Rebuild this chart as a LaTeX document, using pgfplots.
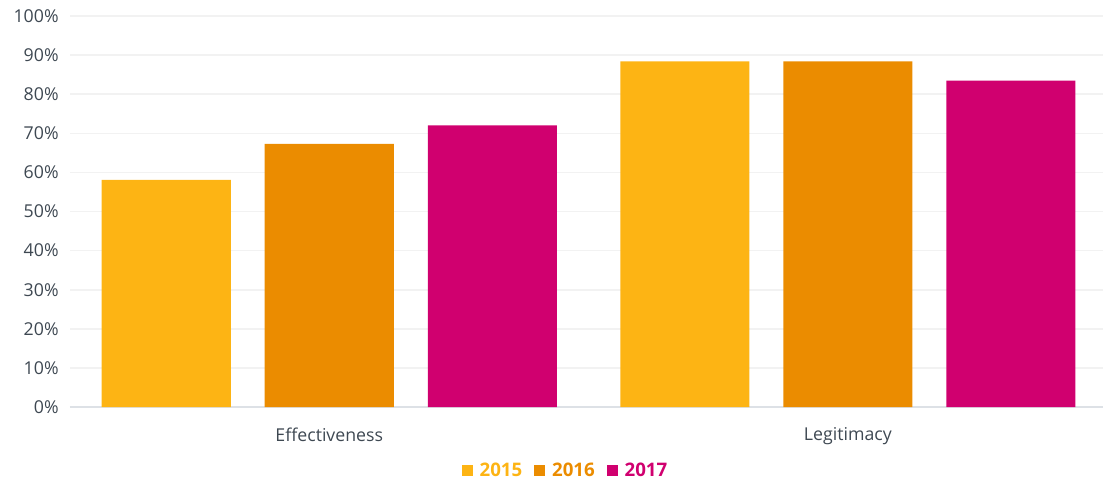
\documentclass[border=0pt]{standalone}
\usepackage{pgfplots}
\pgfplotsset{compat=1.18}
\usepackage{fontspec}
\setmainfont{Open Sans}
\definecolor{c2015}{HTML}{FDB414}
\definecolor{c2016}{HTML}{EB8C00}
\definecolor{c2017}{HTML}{D0006F}
\definecolor{txt}{HTML}{3E4852}
\definecolor{gridc}{HTML}{F2F2F2}
\definecolor{axc}{HTML}{DDE1E6}
\begin{document}
\begin{tikzpicture}
\useasboundingbox (-52.5pt,-57pt) rectangle (774.75pt,305.25pt);
\begin{axis}[
  scale only axis,
  width=774.75pt, height=293.25pt,
  xmin=-0.5, xmax=1.492,
  ymin=0, ymax=100,
  ytick={0,10,...,100},
  yticklabel={\pgfmathprintnumber{\tick}\%},
  xtick={0,1},
  xticklabels={Effectiveness, Legitimacy},
  /pgf/number format/assume math mode=true,
  tick label style={font=\fontsize{13.3pt}{15pt}\selectfont, text=txt},
  major tick length=0pt,
  xticklabel style={yshift=-12pt},
  yticklabel style={xshift=-5pt},
  axis x line=bottom,
  axis y line=left,
  x axis line style={-, draw=axc, line width=1.5pt},
  y axis line style={draw=none},
  ymajorgrids,
  major grid style={draw=gridc, line width=1.2pt},
  axis on top=false,
  legend style={at={(0.480,-0.163)}, anchor=center, draw=none, fill=none,
    legend columns=3, font=\fontsize{14pt}{16pt}\selectfont\bfseries,
    /tikz/every odd column/.append style={column sep=3pt},
    /tikz/every even column/.append style={column sep=7pt}},
  legend image code/.code={\fill[#1] (0pt,-4.2pt) rectangle (8.4pt,4.2pt);},
]
\addplot[ybar, bar width=0.249, bar shift=-0.3144, fill=c2015, draw=none]
  coordinates {(0,58.1) (1,88.4)};
\addlegendentry{\textcolor{c2015}{2015}}
\addplot[ybar, bar width=0.249, bar shift=0, fill=c2016, draw=none]
  coordinates {(0,67.3) (1,88.4)};
\addlegendentry{\textcolor{c2016}{2016}}
\addplot[ybar, bar width=0.249, bar shift=0.3144, fill=c2017, draw=none]
  coordinates {(0,72.0) (1,83.5)};
\addlegendentry{\textcolor{c2017}{2017}}
\end{axis}
\end{tikzpicture}
\end{document}
